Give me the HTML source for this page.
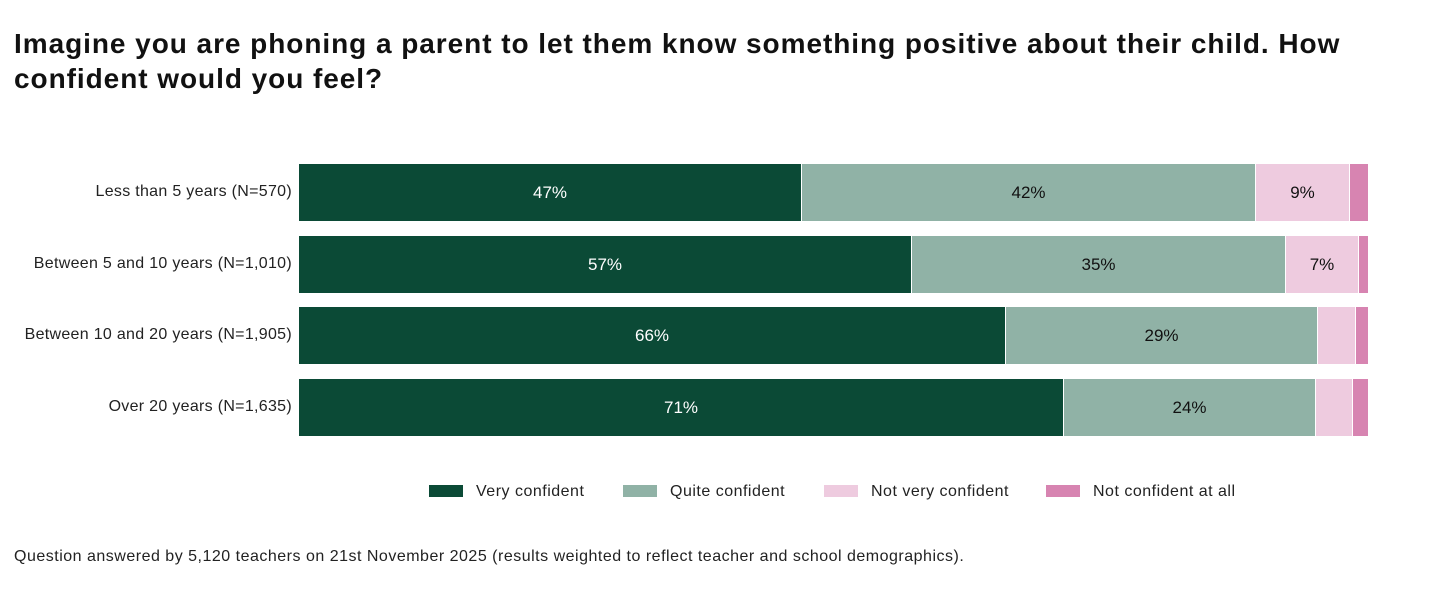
<!DOCTYPE html>
<html><head><meta charset="utf-8"><style>
body{margin:0;width:1440px;height:600px;background:#fff;font-family:"Liberation Sans",sans-serif;position:relative;overflow:hidden;color:#111}
.t{position:absolute;left:14px;top:26px;font-size:28px;font-weight:bold;line-height:35px;width:1370px;letter-spacing:0.95px}
.lab{position:absolute;right:1148px;font-size:16px;letter-spacing:0.3px;color:#222;white-space:nowrap}
.s{position:absolute;height:57px;box-sizing:border-box;border-right:1px solid #fff;display:flex;align-items:center;justify-content:center;font-size:17px}
.a{background:#0b4a36;color:#fff}.b{background:#90b2a6;color:#111}.c{background:#eecbdf;color:#111}.d{background:#d784b1}
.lg{position:absolute;top:483px;font-size:16px;letter-spacing:0.5px;color:#222;white-space:nowrap}
.lg i{display:inline-block;width:34px;height:12px;margin-right:13px;vertical-align:-1px}
.f{position:absolute;left:14px;top:548px;font-size:16px;letter-spacing:0.5px;color:#222;white-space:nowrap}
</style></head><body>
<div class="t">Imagine you are phoning a parent to let them know something positive about their child. How<br>confident would you feel?</div>

<div class="lab" style="top:183px">Less than 5 years (N=570)</div>
<div class="lab" style="top:255px">Between 5 and 10 years (N=1,010)</div>
<div class="lab" style="top:326px">Between 10 and 20 years (N=1,905)</div>
<div class="lab" style="top:398px">Over 20 years (N=1,635)</div>

<div class="s a" style="top:164px;left:299px;width:503px">47%</div>
<div class="s b" style="top:164px;left:802px;width:454px">42%</div>
<div class="s c" style="top:164px;left:1256px;width:94px">9%</div>
<div class="s d" style="top:164px;left:1350px;width:18px;border:0"></div>

<div class="s a" style="top:236px;left:299px;width:613px">57%</div>
<div class="s b" style="top:236px;left:912px;width:374px">35%</div>
<div class="s c" style="top:236px;left:1286px;width:73px">7%</div>
<div class="s d" style="top:236px;left:1359px;width:9px;border:0"></div>

<div class="s a" style="top:307px;left:299px;width:707px">66%</div>
<div class="s b" style="top:307px;left:1006px;width:312px">29%</div>
<div class="s c" style="top:307px;left:1318px;width:38px"></div>
<div class="s d" style="top:307px;left:1356px;width:12px;border:0"></div>

<div class="s a" style="top:379px;left:299px;width:765px">71%</div>
<div class="s b" style="top:379px;left:1064px;width:252px">24%</div>
<div class="s c" style="top:379px;left:1316px;width:37px"></div>
<div class="s d" style="top:379px;left:1353px;width:15px;border:0"></div>

<div class="lg" style="left:429px"><i style="background:#0b4a36"></i>Very confident</div>
<div class="lg" style="left:623px"><i style="background:#90b2a6"></i>Quite confident</div>
<div class="lg" style="left:824px"><i style="background:#eecbdf"></i>Not very confident</div>
<div class="lg" style="left:1046px"><i style="background:#d784b1"></i>Not confident at all</div>

<div class="f">Question answered by 5,120 teachers on 21st November 2025 (results weighted to reflect teacher and school demographics).</div>
</body></html>
